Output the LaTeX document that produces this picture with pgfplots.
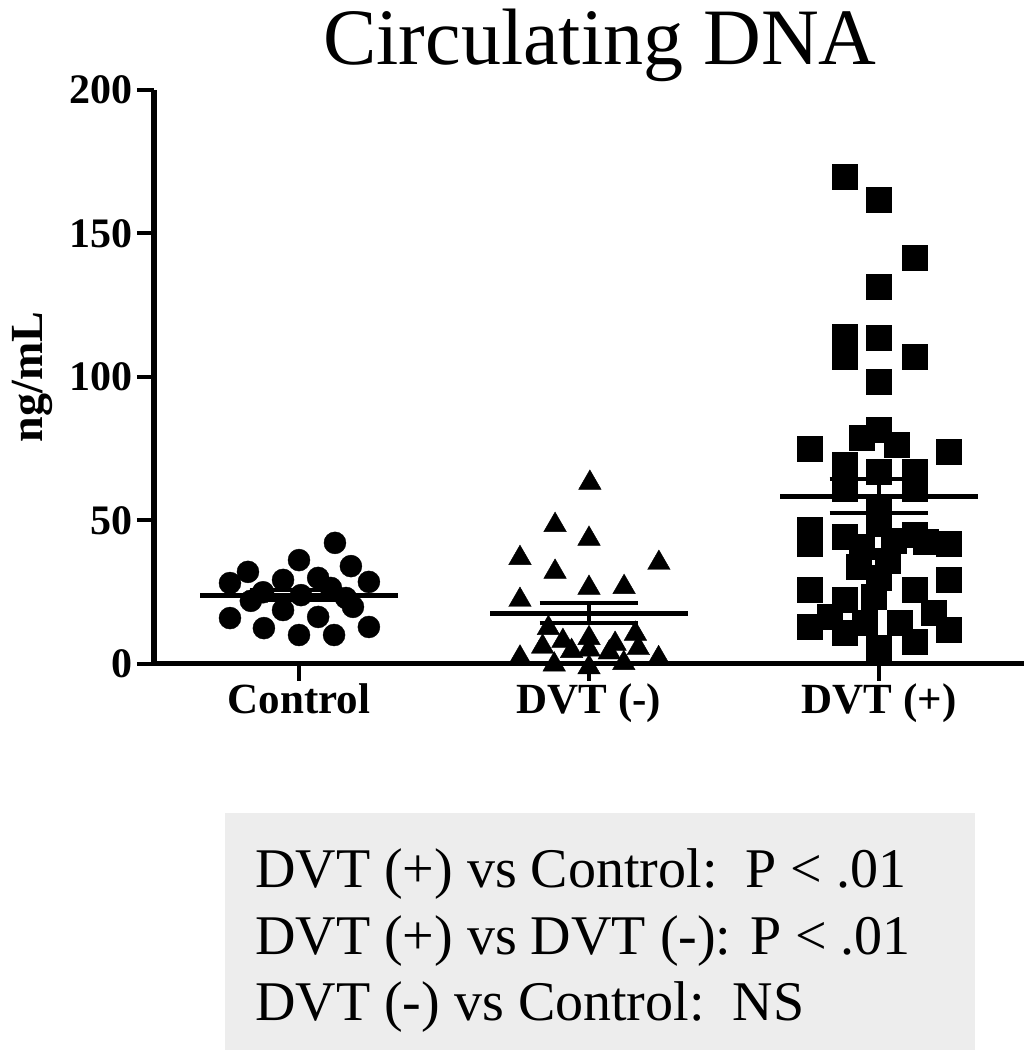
\documentclass[border=0pt]{standalone}
\usepackage{fontspec}
\setmainfont{Liberation Serif}
\usepackage{pgfplots}
\pgfplotsset{compat=1.18}
\begin{document}
\begin{tikzpicture}
\useasboundingbox (0,0) rectangle (1025bp,1050bp);
\begin{axis}[
  at={(154bp,386bp)}, anchor=south west,
  scale only axis, width=870bp, height=574bp,
  xmin=-0.5, xmax=2.5, ymin=0, ymax=200,
  clip=false,
  axis x line=bottom, axis y line=left,
  axis line style={line width=5bp, -},
  tick align=outside,
  major tick length=17bp,
  major tick style={line width=4bp, black},
  xtick={0,1,2}, xticklabels={Control,DVT (-),DVT (+)},
  ytick={0,50,100,150,200},
  /pgf/number format/assume math mode=true,
  yticklabel style={font=\fontsize{42bp}{42bp}\selectfont\bfseries, xshift=-1bp},
  xticklabel style={font=\fontsize{43bp}{43bp}\selectfont\bfseries, yshift=1bp},
  ylabel={ng/mL},
  ylabel style={font=\fontsize{46bp}{46bp}\selectfont\bfseries, at={(axis description cs:-0.14,0.5)}, anchor=center},
]
% Control
\addplot[only marks, mark=*, mark size=11bp, black] table {
x y
0.124 42.2
0.000 36.2
-0.176 32.1
-0.238 28.2
0.179 34.1
0.241 28.6
-0.055 29.3
0.066 30.0
-0.238 16.0
-0.121 12.5
0.000 10.1
0.121 10.1
0.066 16.4
0.241 12.9
-0.055 18.8
0.186 19.9
-0.124 25.0
0.007 24.0
0.110 26.5
0.162 23.0
-0.166 22.0
};
% DVT (-)
\addplot[only marks, mark=triangle*, mark size=13bp, black] table {
x y
1.003 63.1
0.883 48.4
1.000 43.6
0.762 36.9
1.241 35.2
0.883 32.1
1.000 26.5
1.121 26.8
0.762 22.3
0.860 12.5
1.160 10.5
1.000 9.0
1.000 5.0
0.840 6.0
0.940 4.5
1.070 4.0
1.170 5.5
0.762 2.2
0.880 -0.2
1.000 -1.2
1.120 0.3
1.240 2.0
0.910 8.0
1.090 7.0
};
% DVT (+)
\addplot[only marks, mark=square*, mark size=12.5bp, black] table {
x y
1.883 169.7
2.000 161.7
2.124 141.5
2.000 131.4
1.883 113.9
1.883 107.0
2.000 113.6
2.124 107.0
2.000 98.3
2.000 81.5
1.760 74.9
1.940 78.7
2.060 76.3
2.240 73.9
1.883 69.3
1.883 61.0
2.000 66.9
2.124 66.9
2.124 61.0
2.000 53.7
1.760 46.7
1.883 44.3
2.000 49.0
2.124 45.0
2.240 42.0
1.760 42.0
1.940 40.8
2.050 43.0
2.160 42.5
1.930 33.8
2.030 36.0
1.760 25.8
1.883 22.3
1.980 23.3
2.124 25.8
2.240 29.3
1.760 12.9
1.950 14.3
1.883 10.8
2.070 14.3
2.190 17.8
2.240 11.8
2.124 7.7
2.000 5.6
1.830 16.4
2.000 30.0
};
% means
\addplot[black, line width=5bp] coordinates {(-0.34,24.0) (0.34,24.0)};
\addplot[black, line width=5bp] coordinates {(0.66,17.7) (1.34,17.7)};
\addplot[black, line width=5bp] coordinates {(1.66,58.5) (2.34,58.5)};
% SEM
\addplot[black, line width=4bp] coordinates {(-0.17,25.8) (0.17,25.8)};
\addplot[black, line width=4bp] coordinates {(-0.17,22.2) (0.17,22.2)};
\addplot[black, line width=4bp] coordinates {(0,22.2) (0,25.8)};
\addplot[black, line width=4bp] coordinates {(0.83,21.1) (1.17,21.1)};
\addplot[black, line width=4bp] coordinates {(0.83,14.2) (1.17,14.2)};
\addplot[black, line width=4bp] coordinates {(1,14.2) (1,21.1)};
\addplot[black, line width=4bp] coordinates {(1.83,64.5) (2.17,64.5)};
\addplot[black, line width=4bp] coordinates {(1.83,52.5) (2.17,52.5)};
\addplot[black, line width=4bp] coordinates {(2,52.5) (2,64.5)};
\end{axis}
\node[anchor=base, font=\fontsize{80bp}{80bp}\selectfont, inner sep=0pt] at (600bp,985bp) {Circulating DNA};
\fill[gray!14] (225bp,0bp) rectangle (975bp,237bp);
\node[anchor=base west, font=\fontsize{56bp}{56bp}\selectfont, inner sep=0pt] at (255bp,162bp) {DVT (+) vs Control:\ \ P < .01};
\node[anchor=base west, font=\fontsize{56bp}{56bp}\selectfont, inner sep=0pt] at (255bp,95bp) {DVT (+) vs DVT (-): P < .01};
\node[anchor=base west, font=\fontsize{56bp}{56bp}\selectfont, inner sep=0pt] at (255bp,30bp) {DVT (-) vs Control:\ \ NS};
\end{tikzpicture}
\end{document}
